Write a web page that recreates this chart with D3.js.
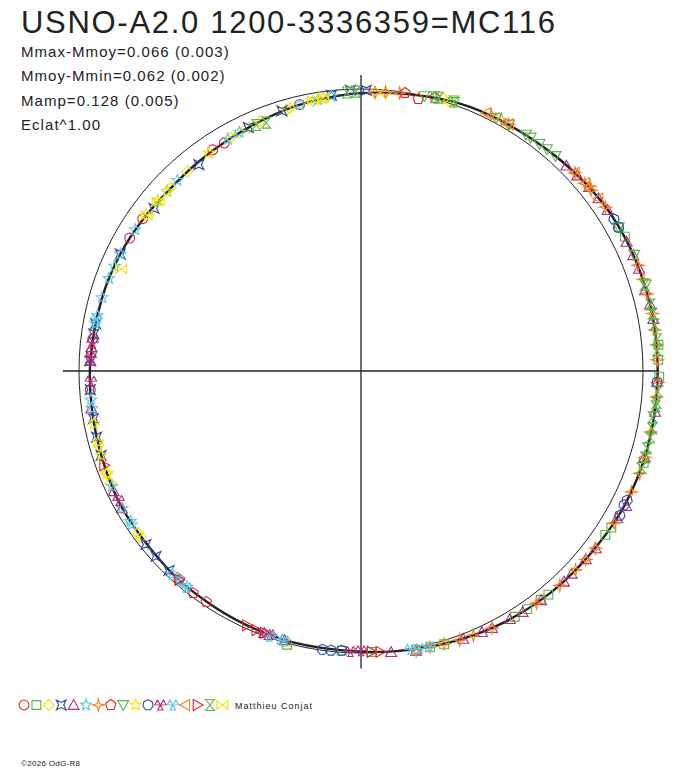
<!DOCTYPE html>
<html>
<head>
<meta charset="utf-8">
<script src="https://cdn.jsdelivr.net/npm/d3@7"></script>
<style>
  body { margin: 0; background: #fff; }
  svg text { font-family: 'Liberation Sans', Arial, sans-serif; fill: #222; }
</style>
</head>
<body>
<script>
const title = 'USNO-A2.0 1200-3336359=MC116'
const statLines = ['Mmax-Mmoy=0.066 (0.003)', 'Mmoy-Mmin=0.062 (0.002)', 'Mamp=0.128 (0.005)', 'Eclat^1.00']
const author = 'Matthieu Conjat'
const copyright = '\u00a92026 OdG-R8'

// mean light curve [phase, mag - mean mag]
const meanCurve = [
  [0.000, 0.016], [0.028, 0.004], [0.056, -0.012], [0.083, -0.019], [0.117, -0.030],
  [0.139, -0.040], [0.161, -0.049], [0.189, -0.053], [0.222, -0.055], [0.256, -0.055],
  [0.292, -0.055], [0.325, -0.052], [0.353, -0.044], [0.378, -0.039], [0.397, -0.034],
  [0.417, -0.028], [0.436, -0.020], [0.458, -0.010], [0.478, -0.002], [0.500, 0.005],
  [0.539, 0.009], [0.569, 0.013], [0.594, 0.017], [0.622, 0.021], [0.667, 0.026],
  [0.697, 0.034], [0.728, 0.040], [0.756, 0.044], [0.794, 0.051], [0.822, 0.057],
  [0.847, 0.065], [0.869, 0.072], [0.894, 0.068], [0.917, 0.061], [0.939, 0.050],
  [0.961, 0.036], [0.981, 0.026]
]

// one array per observer / symbol, [phase, mag - mean mag]
const obsCircle = [[0.739, 0.042], [0.761, 0.046], [0.769, 0.047], [0.833, 0.060], [0.847, 0.063],
  [0.906, 0.062], [0.914, 0.064], [0.964, 0.033]]
const obsSquare = [[0.169, -0.050], [0.175, -0.053], [0.236, -0.062], [0.244, -0.058], [0.253, -0.061],
  [0.300, -0.057], [0.339, -0.050], [0.344, -0.046], [0.389, -0.037], [0.394, -0.034], [0.403, -0.032],
  [0.411, -0.030], [0.453, -0.014], [0.461, -0.010], [0.469, -0.008], [0.494, 0.003], [0.511, 0.006],
  [0.542, -0.006]]
const obsDiamond = [[0.647, 0.023], [0.650, 0.025], [0.683, 0.030], [0.689, 0.031], [0.706, 0.036],
  [0.850, 0.066], [0.872, 0.070], [0.886, 0.069], [0.919, 0.058], [0.925, 0.057], [0.931, 0.055],
  [0.939, 0.050], [0.956, 0.040], [0.958, 0.039], [0.972, 0.030], [0.008, 0.012], [0.014, 0.010],
  [0.047, -0.010], [0.050, -0.008]]
const obsCross = [[0.622, 0.020], [0.633, 0.022], [0.642, 0.022], [0.700, 0.034], [0.711, 0.037],
  [0.722, 0.040], [0.739, 0.042], [0.756, 0.044], [0.772, 0.048], [0.778, 0.049], [0.822, 0.057],
  [0.856, 0.075], [0.894, 0.078], [0.931, 0.054], [0.953, 0.040], [0.983, 0.018], [0.994, 0.004],
  [0.003, 0.005]]
const obsTriUp = [[0.125, -0.032], [0.133, -0.036], [0.142, -0.042], [0.150, -0.044], [0.158, -0.047],
  [0.178, -0.050], [0.186, -0.052], [0.194, -0.054], [0.206, -0.050], [0.214, -0.055], [0.222, -0.056],
  [0.256, -0.054], [0.272, -0.056], [0.297, -0.054], [0.325, -0.058], [0.333, -0.050], [0.353, -0.046],
  [0.361, -0.042], [0.372, -0.039], [0.378, -0.040], [0.394, -0.036], [0.406, -0.031], [0.414, -0.028],
  [0.425, -0.025], [0.431, -0.022], [0.442, -0.018], [0.469, -0.012], [0.483, -0.003], [0.544, 0.008],
  [0.553, 0.010], [0.667, 0.024], [0.678, 0.027], [0.728, 0.038], [0.756, 0.043], [0.764, 0.045]]
const obsStar = [[0.608, 0.018], [0.614, 0.020], [0.619, 0.019], [0.656, 0.024], [0.658, 0.026],
  [0.667, 0.026], [0.681, 0.029], [0.728, 0.040], [0.733, 0.041], [0.778, 0.049], [0.783, 0.050],
  [0.794, 0.051], [0.806, 0.053], [0.814, 0.056], [0.822, 0.058], [0.839, 0.062], [0.861, 0.068],
  [0.869, 0.070], [0.878, 0.069], [0.917, 0.058], [0.925, 0.056], [0.964, 0.035], [0.975, 0.028],
  [0.983, 0.022]]
const obsStar4 = [[0.008, 0.012], [0.014, 0.008], [0.022, 0.005], [0.075, -0.020], [0.081, -0.024],
  [0.086, -0.020], [0.131, -0.037], [0.139, -0.038], [0.142, -0.046], [0.144, -0.040], [0.156, -0.046],
  [0.192, -0.054], [0.200, -0.056], [0.208, -0.054], [0.219, -0.057], [0.228, -0.055], [0.236, -0.056],
  [0.244, -0.054], [0.256, -0.057], [0.264, -0.055], [0.283, -0.053], [0.297, -0.055], [0.306, -0.056],
  [0.317, -0.053], [0.336, -0.050], [0.353, -0.045], [0.361, -0.043], [0.369, -0.040], [0.381, -0.039],
  [0.397, -0.034], [0.425, -0.025], [0.436, -0.020], [0.444, -0.017], [0.453, -0.013], [0.461, -0.010],
  [0.469, -0.012]]
const obsPentagon = [[0.025, 0.002], [0.033, 0.016], [0.042, -0.004], [0.594, 0.016], [0.603, 0.014],
  [0.614, 0.021]]
const obsTriDown = [[0.036, 0.000], [0.053, -0.010], [0.078, -0.019], [0.086, -0.020], [0.097, -0.024],
  [0.100, -0.025], [0.106, -0.026], [0.111, -0.028], [0.117, -0.030], [0.169, -0.049], [0.186, -0.056],
  [0.203, -0.058]]
const obsStarY = [[0.689, 0.031], [0.700, 0.034], [0.708, 0.037], [0.719, 0.038], [0.861, 0.068],
  [0.869, 0.072], [0.903, 0.064], [0.978, 0.027]]
const obsHepta = [[0.164, -0.049], [0.169, -0.048], [0.256, -0.054], [0.322, -0.052], [0.325, -0.050],
  [0.331, -0.054], [0.511, 0.007], [0.517, 0.004], [0.522, 0.003]]
const obsTrefoilM = [[0.500, 0.009], [0.506, 0.005], [0.553, 0.012], [0.558, 0.009], [0.672, 0.028],
  [0.744, 0.046], [0.758, 0.044], [0.767, 0.047]]
const obsTrefoilC = [[0.461, -0.008], [0.467, -0.006], [0.472, -0.003], [0.544, 0.006], [0.547, 0.008],
  [0.553, 0.005], [0.608, 0.016], [0.614, 0.018], [0.781, 0.049]]
const obsTriLeft = [[0.072, -0.018], [0.086, -0.022], [0.131, -0.036], [0.139, -0.040], [0.150, -0.043]]
const obsTriRight = [[0.489, 0.002], [0.494, 0.004], [0.556, 0.012], [0.561, 0.010], [0.567, 0.013],
  [0.614, 0.020], [0.694, 0.033]]
const obsHourglass = [[0.992, 0.012], [0.997, 0.010], [0.042, -0.006], [0.044, -0.008], [0.053, -0.012],
  [0.936, 0.058], [0.942, 0.064], [0.203, -0.054], [0.214, -0.056], [0.219, -0.057], [0.225, -0.057],
  [0.233, -0.059], [0.239, -0.056], [0.261, -0.058], [0.267, -0.057], [0.269, -0.055], [0.275, -0.050],
  [0.281, -0.056], [0.286, -0.055], [0.292, -0.054], [0.297, -0.056], [0.303, -0.055]]
const obsBowtie = [[0.814, 0.085], [0.850, 0.068], [0.861, 0.070], [0.972, 0.028], [0.978, 0.024]]

const red = '#e42527', green = '#5ab547', yellow = '#f2e500', blue = '#2d4b9f'
const magenta = '#b12c7d', cyan = '#5ec5e3', orange = '#f47f20'

// symbol shapes (unit ~5px)
function poly(pts) {
  return {
    draw(ctx, size) {
      const k = Math.sqrt(size) / 5
      pts.forEach(([x, y], i) => i ? ctx.lineTo(x * k, y * k) : ctx.moveTo(x * k, y * k))
      ctx.closePath()
    }
  }
}
function regular(n, r, rot) {
  return poly(d3.range(n).map(i => {
    const a = (rot + i * 360 / n) * Math.PI / 180
    return [r * Math.cos(a), r * Math.sin(a)]
  }))
}
function star(n, r1, r2, rot) {
  return poly(d3.range(2 * n).map(i => {
    const a = (rot + i * 180 / n) * Math.PI / 180
    const r = i % 2 ? r2 : r1
    return [r * Math.cos(a), r * Math.sin(a)]
  }))
}
const trefoil = {
  draw(ctx, size) {
    const k = Math.sqrt(size) / 5
    ;[-150, -30, 90].forEach(deg => {
      const a1 = (deg - 28) * Math.PI / 180, a2 = (deg + 28) * Math.PI / 180
      ctx.moveTo(0, 0)
      ctx.lineTo(5.2 * k * Math.cos(a1), 5.2 * k * Math.sin(a1))
      ctx.lineTo(5.2 * k * Math.cos(a2), 5.2 * k * Math.sin(a2))
      ctx.closePath()
    })
  }
}
const circle = {
  draw(ctx, size) {
    const r = Math.sqrt(size) * 0.9
    ctx.moveTo(r, 0)
    ctx.arc(0, 0, r, 0, 2 * Math.PI)
  }
}

const series = [
  { data: obsCircle, type: circle, color: red },
  { data: obsSquare, type: poly([[-4, -4], [4, -4], [4, 4], [-4, 4]]), color: green },
  { data: obsDiamond, type: poly([[0, -5], [5, 0], [0, 5], [-5, 0]]), color: yellow },
  { data: obsCross, type: poly([[-4.5, -4.5], [0, -2.3], [4.5, -4.5], [2.3, 0], [4.5, 4.5], [0, 2.3], [-4.5, 4.5], [-2.3, 0]]), color: blue },
  { data: obsTriUp, type: poly([[0, -5], [5, 4], [-5, 4]]), color: magenta },
  { data: obsStar, type: star(5, 5.4, 2.4, -90), color: cyan },
  { data: obsStar4, type: star(4, 5.5, 1.7, -90), color: orange },
  { data: obsPentagon, type: regular(5, 5, -90), color: red },
  { data: obsTriDown, type: poly([[0, 5], [5, -4], [-5, -4]]), color: green },
  { data: obsStarY, type: star(5, 5.4, 2.4, -90), color: yellow },
  { data: obsHepta, type: regular(7, 4.8, -90), color: blue },
  { data: obsTrefoilM, type: trefoil, color: magenta },
  { data: obsTrefoilC, type: trefoil, color: cyan },
  { data: obsTriLeft, type: poly([[-5, 0], [4, -5], [4, 5]]), color: orange },
  { data: obsTriRight, type: poly([[5, 0], [-4, -5], [-4, 5]]), color: red },
  { data: obsHourglass, type: poly([[-4, -5], [4, -5], [-4, 5], [4, 5]]), color: green },
  { data: obsBowtie, type: poly([[-5, -4], [-5, 4], [5, -4], [5, 4]]), color: yellow }
]

const width = 688, height = 768
const cx = 361, cy = 371, R = 282
const markSize = 30

const svg = d3.select('body').append('svg')
  .attr('width', width)
  .attr('height', height)
svg.append('rect').attr('width', width).attr('height', height).attr('fill', '#fff')

// brightness scale, radius proportional to flux (Eclat^1)
const flux = dm => Math.pow(10, -0.4 * dm)
const rScale = d3.scaleLinear().domain([0, 1]).range([0, R])
const aScale = d3.scaleLinear().domain([0, 1]).range([0, 2 * Math.PI])

const g = svg.append('g').attr('transform', `translate(${cx},${cy})`)

// reference circle (mean magnitude)
g.append('circle')
  .attr('r', rScale(1))
  .attr('fill', 'none')
  .attr('stroke', '#222')
  .attr('stroke-width', 1)

// axes
const axisLen = rScale(1.057)
g.append('line').attr('x1', -axisLen).attr('x2', axisLen)
  .attr('stroke', '#222').attr('stroke-width', 1.3)
g.append('line').attr('y1', -rScale(1.05)).attr('y2', rScale(1.055))
  .attr('stroke', '#222').attr('stroke-width', 1.3)

// mean curve
const radial = d3.lineRadial()
  .angle(d => aScale(d[0]))
  .radius(d => rScale(flux(d[1])))
  .curve(d3.curveCatmullRomClosed)
g.append('path')
  .attr('d', radial(meanCurve))
  .attr('fill', 'none')
  .attr('stroke', '#222')
  .attr('stroke-width', 2.4)

const pos = d => {
  const a = aScale(d[0]), r = rScale(flux(d[1]))
  return [r * Math.sin(a), -r * Math.cos(a)]
}

series.forEach(s => {
  const sym = d3.symbol().type(s.type).size(markSize)
  g.append('g').selectAll('path')
    .data(s.data)
    .enter().append('path')
    .attr('transform', d => `translate(${pos(d)})`)
    .attr('d', sym)
    .attr('fill', 'none')
    .attr('stroke', s.color)
    .attr('stroke-width', 1.1)
})

// texts
svg.append('text')
  .attr('x', 21).attr('y', 33)
  .style('font-size', '31px')
  .style('letter-spacing', '1.7px')
  .text(title)

svg.selectAll('.stat')
  .data(statLines)
  .enter().append('text')
  .attr('class', 'stat')
  .attr('x', 21)
  .attr('y', (d, i) => 57 + i * 24.3)
  .style('font-size', '15px')
  .style('letter-spacing', '1.05px')
  .text(d => d)

// legend of symbols
const legend = svg.append('g').attr('transform', 'translate(24,705)')
series.forEach((s, i) => {
  legend.append('path')
    .attr('transform', `translate(${i * 12.4},0)`)
    .attr('d', d3.symbol().type(s.type).size(markSize))
    .attr('fill', 'none')
    .attr('stroke', s.color)
    .attr('stroke-width', 1.1)
})
svg.append('text')
  .attr('x', 235).attr('y', 709)
  .style('font-size', '9px')
  .style('letter-spacing', '1px')
  .text(author)

svg.append('text')
  .attr('x', 21).attr('y', 766)
  .style('font-size', '8px')
  .style('letter-spacing', '0.3px')
  .text(copyright)
</script>
</body>
</html>
